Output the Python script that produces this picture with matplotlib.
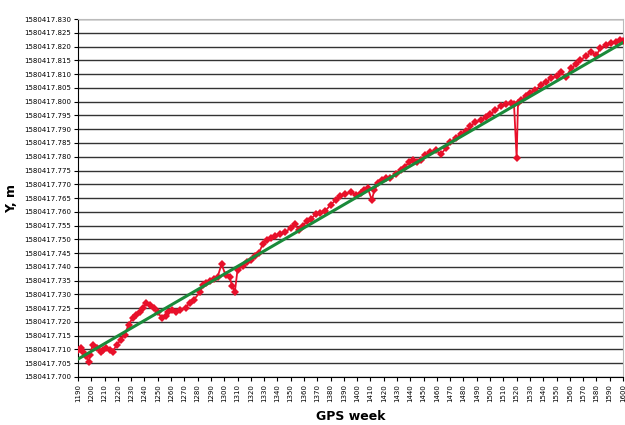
import numpy as np
import matplotlib
matplotlib.use("Agg")
from matplotlib import pyplot as plt

# GPS week / Y coordinate (metres)
weeks = [1190, 1192, 1194, 1196, 1198, 1199, 1201, 1204, 1207, 1209, 1211, 1214,
         1216, 1219, 1222, 1225, 1228, 1231, 1234, 1237, 1239, 1241, 1244, 1247,
         1250, 1253, 1256, 1258, 1261, 1264, 1267, 1271, 1274, 1277, 1282, 1284,
         1286, 1289, 1292, 1295, 1298, 1301, 1304, 1306, 1308, 1310, 1314, 1317,
         1320, 1323, 1326, 1329, 1332, 1335, 1338, 1342, 1346, 1350, 1353, 1356,
         1359, 1362, 1365, 1369, 1372, 1376, 1380, 1384, 1387, 1391, 1395, 1399,
         1403, 1405, 1408, 1411, 1413, 1416, 1419, 1422, 1425, 1429, 1433, 1436,
         1439, 1442, 1445, 1448, 1451, 1455, 1459, 1463, 1467, 1470, 1474, 1478,
         1482, 1485, 1489, 1493, 1497, 1500, 1504, 1508, 1512, 1516, 1518, 1520,
         1521, 1523, 1527, 1530, 1534, 1538, 1542, 1546, 1550, 1553, 1557, 1561,
         1565, 1568, 1572, 1576, 1580, 1583, 1587, 1591, 1595, 1598, 1600]

# offset above 1580417.700 in millimetres
offset_mm = [9.8, 10.5, 9.1, 7.6, 5.4, 8.0, 11.6, 10.5, 9.1, 9.8, 10.5, 9.8,
             9.1, 11.6, 13.4, 15.3, 18.9, 21.4, 22.5, 23.6, 25.1, 26.9, 26.1, 25.1,
             23.6, 21.4, 22.1, 23.6, 24.3, 23.6, 24.3, 25.1, 27.0, 28.0, 30.9, 33.4,
             34.1, 34.9, 35.6, 36.3, 41.0, 37.0, 36.3, 33.0, 30.9, 38.9, 40.3, 41.8,
             42.5, 43.9, 45.0, 48.3, 49.7, 50.5, 51.2, 51.9, 52.7, 54.1, 55.6, 53.4,
             54.8, 56.6, 57.4, 59.2, 59.5, 60.3, 62.5, 64.3, 65.7, 66.4, 67.2, 66.1,
             66.8, 67.9, 68.6, 64.3, 67.9, 70.4, 71.5, 72.3, 72.3, 73.7, 75.2, 76.3,
             78.1, 78.8, 78.1, 78.8, 80.6, 81.7, 82.4, 81.0, 83.2, 85.3, 86.8, 88.2,
             89.3, 91.1, 92.6, 93.3, 94.4, 95.5, 96.9, 98.4, 99.1, 99.5, 99.1, 79.5,
             99.5, 100.6, 102.0, 103.1, 104.2, 106.0, 107.1, 108.6, 109.3, 110.7, 108.9, 112.2,
             113.7, 115.1, 116.6, 118.0, 116.9, 119.5, 120.5, 121.3, 121.6, 122.4, 122.0]

base = 1580417.700
y_vals = base + np.array(offset_mm) / 1000.0

# linear trend end points
trend_weeks = [1190, 1600]
trend_vals = [base + 0.0065, base + 0.1215]

y_ticks = base + np.arange(0, 131, 5) / 1000.0
x_ticks = np.arange(1190, 1601, 10)

fig = plt.figure(figsize=(6.25, 4.25), dpi=100)
ax = fig.add_axes([0.1248, 0.113, 0.872, 0.842])

for yt in y_ticks:
    ax.axhline(yt, color='#333333', lw=1.0, zorder=1)

ax.plot(weeks, y_vals, color='#e8102a', lw=1.3, marker='D', markersize=3.8,
        markeredgewidth=0, zorder=3)
ax.plot(trend_weeks, trend_vals, color='#1a8a3a', lw=2.2, zorder=4)

ax.set_xlim(1190, 1600)
ax.set_ylim(y_ticks[0], y_ticks[-1])
ax.set_yticks(y_ticks)
ax.set_yticklabels(['%.3f' % v for v in y_ticks], fontsize=5)
ax.set_xticks(x_ticks)
ax.set_xticklabels([str(w) for w in x_ticks], rotation=90, fontsize=5)
ax.tick_params(axis='both', length=3, width=0.8, pad=2)

ax.spines['left'].set_color('black')
ax.spines['bottom'].set_color('black')
ax.spines['top'].set_color('#bbbbbb')
ax.spines['right'].set_color('#bbbbbb')

ax.set_xlabel('GPS week', fontsize=9, fontweight='bold', labelpad=6)
ax.set_ylabel('Y, m', fontsize=9, fontweight='bold', labelpad=4)

fig.savefig('out.png', dpi=100)
